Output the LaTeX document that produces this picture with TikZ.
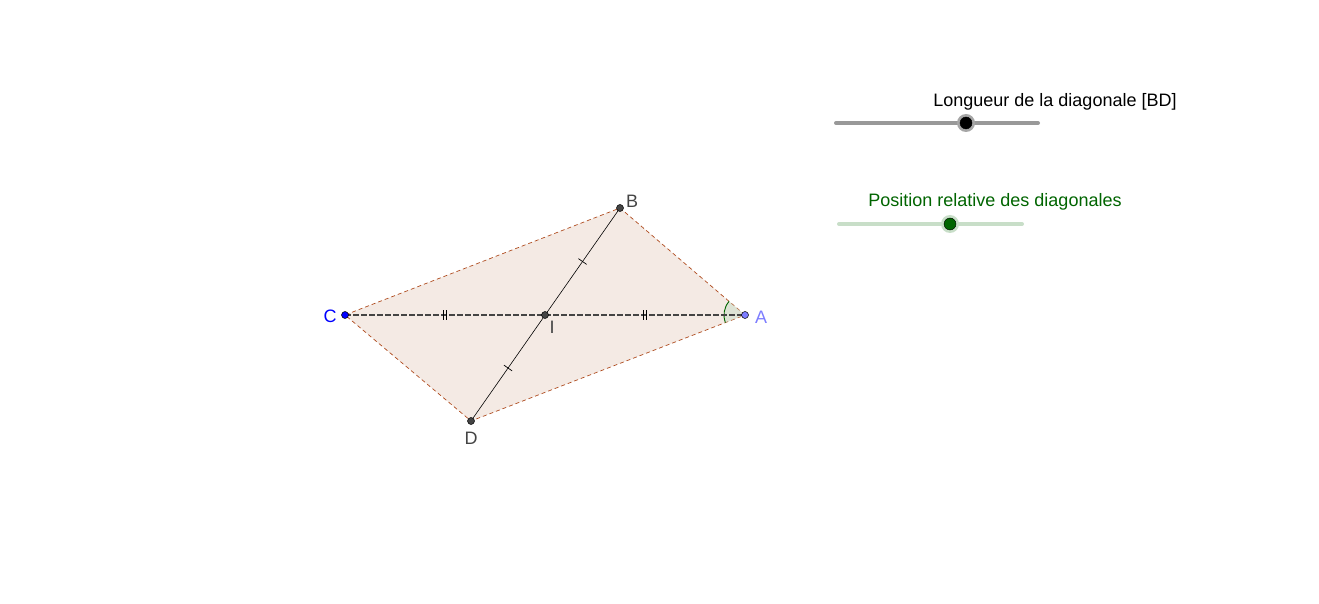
\documentclass[tikz,border=0pt]{standalone}
\usepackage{fontspec}
\setmainfont{Liberation Sans}
\usetikzlibrary{calc,angles}

\definecolor{fondpara}{RGB}{244,234,228}
\definecolor{bordpara}{RGB}{175,75,30}
\definecolor{gris}{RGB}{68,68,68}
\definecolor{bleuA}{RGB}{125,125,255}
\definecolor{vertf}{RGB}{0,100,0}
\definecolor{vertc}{RGB}{200,222,200}

\begin{document}
\begin{tikzpicture}[x=1pt, y=1pt,
 font=\fontsize{18}{20}\selectfont,
  pt/.style = {circle, draw=black, fill=gris, inner sep=0pt,
               minimum size=7pt, line width=0.5pt},% points of the figure
 lbl/.style = {text=gris, inner sep=0pt},
 cote/.style = {dashed, dash pattern=on 4pt off 3pt, bordpara, line width=0.7pt},
                    ]
\useasboundingbox (0,0) rectangle (1319,603);
% points
\coordinate (C) at (345,288);
\coordinate (A) at (745,288);
\coordinate (B) at (620,395);
\coordinate (D) at (471,182);
\coordinate (I) at (545,288);
% parallelogram
\fill[fondpara] (A) -- (B) -- (C) -- (D) -- cycle;
\draw[cote] (A) -- (B) -- (C) -- (D) -- cycle;
\pic[draw=vertf, fill=vertc, fill opacity=0.5, draw opacity=1, angle radius=21pt, line width=0.9pt] {angle = B--A--D};
% diagonals
\draw[line width=1.6pt, gris, dash pattern=on 6pt off 2pt] (C) -- (A);
\draw[line width=0.6pt] (B) -- (D);
% codes
\foreach \x in {445,645}
  \foreach \d in {-1.5,1.5}
    \draw[line width=0.8pt] (\x+\d,283) -- (\x+\d,293);
\foreach \p/\q in {I/B,I/D}
  \draw[line width=0.7pt] ($(\p)!0.5!(\q)!5pt!90:(\q)$) -- ($(\p)!0.5!(\q)!5pt!-90:(\q)$);
% nodes
\node[pt] (nI) at (I) {};
\node[pt] (nB) at (B) {};
\node[pt] (nD) at (D) {};
\node[pt, fill=blue] (nC) at (C) {};
\node[pt, fill=bleuA] (nA) at (A) {};
\node[lbl] (lB) at (632,402) {B};
\node[lbl] (lD) at (471,165) {D};
\node[lbl] (lI) at (552,276) {I};
\node[lbl, text=blue] (lC) at (330,287) {C};
\node[lbl, text=bleuA] (lA) at (761,286) {A};
% sliders
\coordinate (s1a) at (836,480);
\coordinate (s1b) at (1038,480);
\draw[line width=4pt, gray!80, line cap=round] (s1a) -- (s1b);
\node[circle, fill=gray!70, minimum size=18pt, inner sep=0pt] (k1h) at (966,480) {};
\node[circle, fill=black, draw=black, minimum size=12pt, inner sep=0pt] (k1) at (k1h) {};
\node[inner sep=0pt] (t1) at (1055,501) {Longueur de la diagonale [BD]};
\coordinate (s2a) at (839,379);
\coordinate (s2b) at (1022,379);
\draw[line width=4pt, vertc, line cap=round] (s2a) -- (s2b);
\node[circle, fill=vertc, minimum size=18pt, inner sep=0pt] (k2h) at (950,379) {};
\node[circle, fill=vertf, draw=black, minimum size=12pt, inner sep=0pt] (k2) at (k2h) {};
\node[inner sep=0pt, text=vertf] (t2) at (995,401) {Position relative des diagonales};
\end{tikzpicture}
\end{document}
